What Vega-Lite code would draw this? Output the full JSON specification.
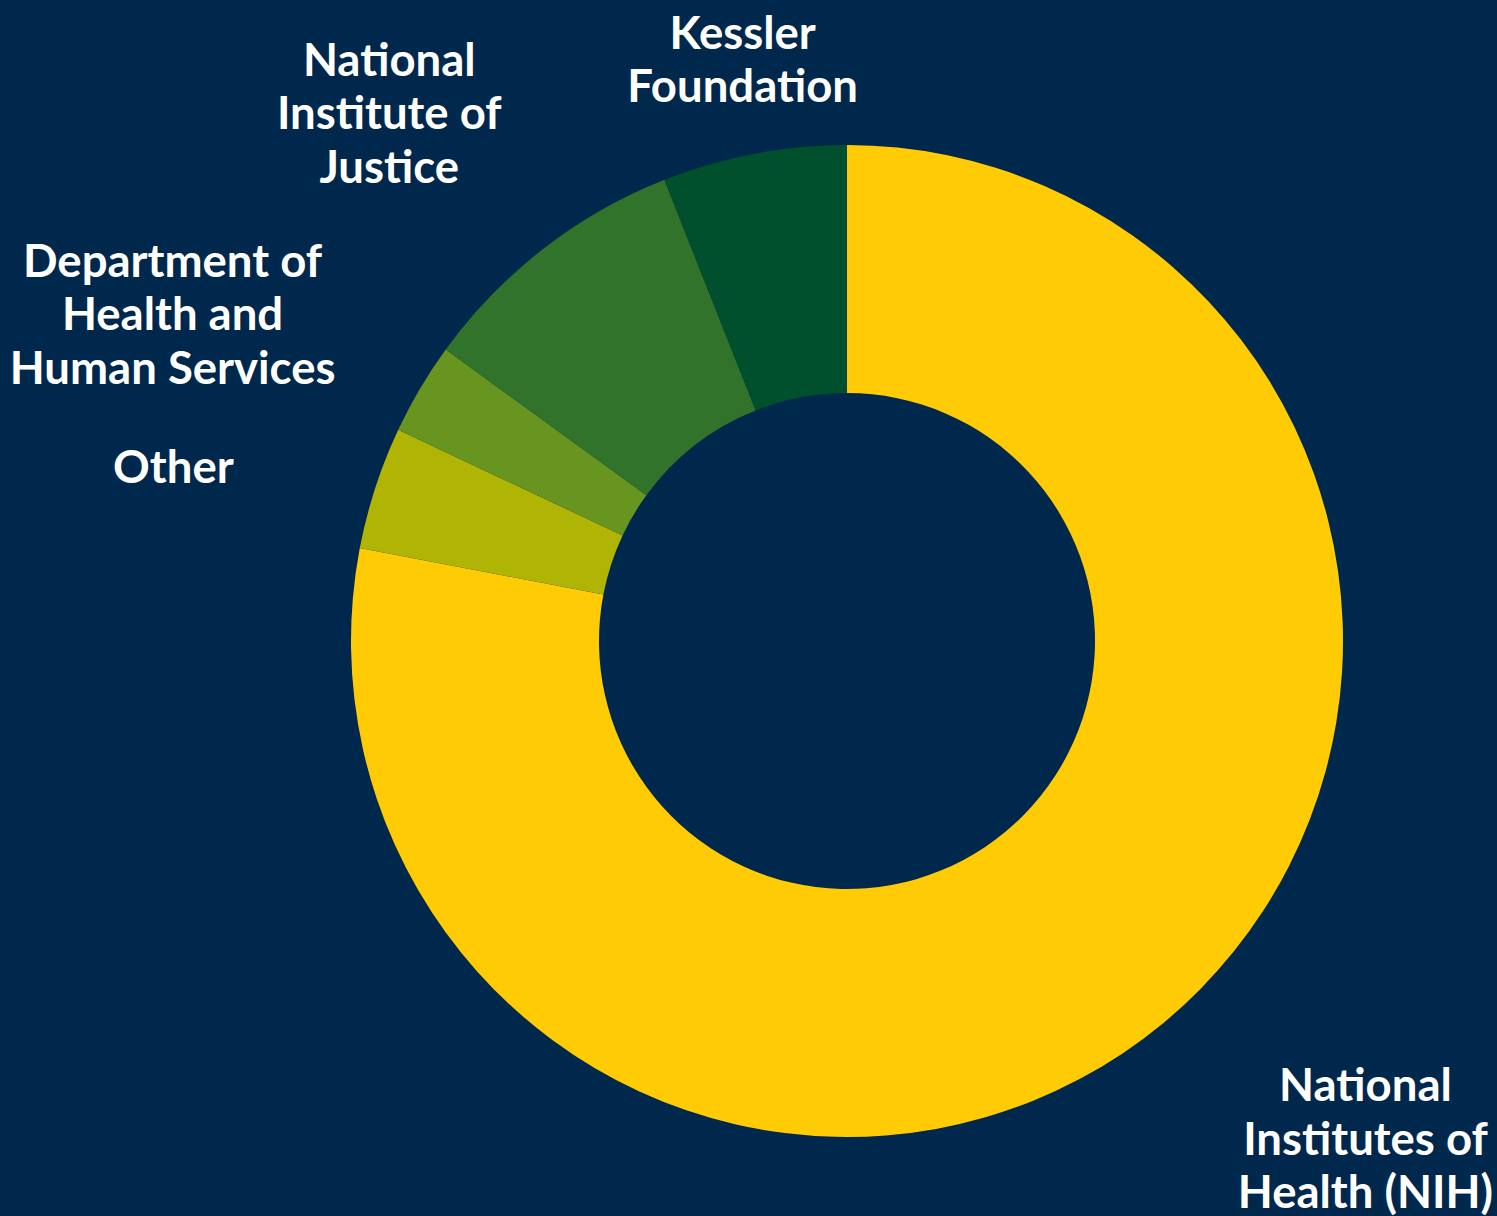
{
  "$schema": "https://vega.github.io/schema/vega-lite/v6.json",
  "width": 1300,
  "height": 1150,
  "autosize": "none",
  "padding": {"left": 197, "right": 0, "top": 66, "bottom": 0},
  "background": "#00274C",
  "view": {"stroke": null},
  "data": {
    "values": [
      {"category": "National Institutes of Health (NIH)", "label": ["National", "Institutes of", "Health (NIH)"], "value": 78, "order": 1},
      {"category": "Other", "label": ["Other"], "value": 4, "order": 2},
      {"category": "Department of Health and Human Services", "label": ["Department of", "Health and", "Human Services"], "value": 3, "order": 3},
      {"category": "National Institute of Justice", "label": ["National", "Institute of", "Justice"], "value": 9, "order": 4},
      {"category": "Kessler Foundation", "label": ["Kessler", "Foundation"], "value": 6, "order": 5}
    ]
  },
  "encoding": {
    "theta": {"field": "value", "type": "quantitative", "stack": true},
    "order": {"field": "order", "type": "quantitative", "sort": "ascending"}
  },
  "layer": [
    {
      "mark": {"type": "arc", "outerRadius": 496, "innerRadius": 248, "stroke": null},
      "encoding": {
        "color": {
          "field": "category",
          "type": "nominal",
          "scale": {
            "domain": ["National Institutes of Health (NIH)", "Other", "Department of Health and Human Services", "National Institute of Justice", "Kessler Foundation"],
            "range": ["#FFCB05", "#AFB405", "#689420", "#32732B", "#00502D"]
          },
          "legend": null
        }
      }
    },
    {
      "mark": {
        "type": "text",
        "radius": 600,
        "font": "Lato",
        "fontWeight": "bold",
        "fontSize": 45.5,
        "lineHeight": 53.5,
        "color": "#FFFFFF",
        "align": "center",
        "baseline": "middle",
        "dx": {"expr": "datum.order == 1 ? 136 : datum.order == 2 ? -103 : datum.order == 3 ? -158 : datum.order == 4 ? -90 : 8"},
        "dy": {"expr": "datum.order == 1 ? -16 : datum.order == 2 ? 13 : datum.order == 3 ? -73 : datum.order == 4 ? -105 : -17"}
      },
      "encoding": {
        "text": {"field": "label"}
      }
    }
  ]
}
